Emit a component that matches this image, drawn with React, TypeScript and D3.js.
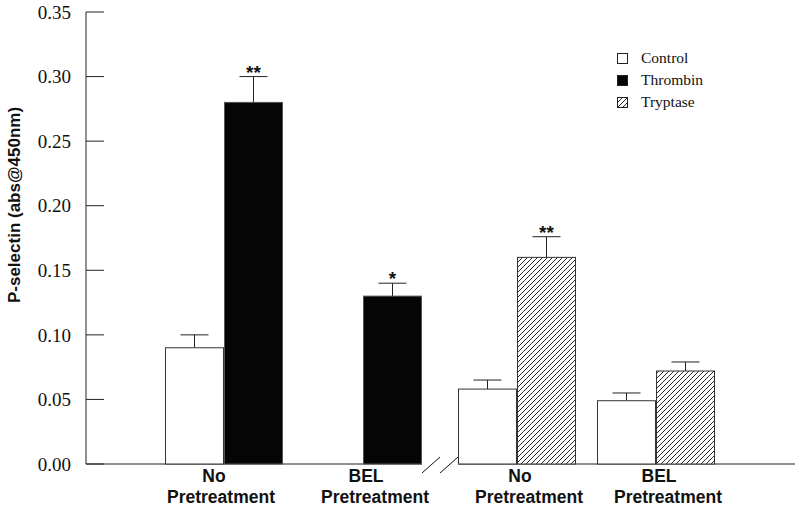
import React, { useEffect, useRef } from 'react';
import * as d3 from 'd3';

// groups along the x axis
const groupTop = ['No', 'BEL', 'No', 'BEL'];
const groupBottom = ['Pretreatment', 'Pretreatment', 'Pretreatment', 'Pretreatment'];
const treatmentKind = ['Thrombin', 'Thrombin', 'Tryptase', 'Tryptase'];

// control bars (null = no bar)
const controlMean: (number | null)[] = [0.09, null, 0.058, 0.049];
const controlErr: (number | null)[] = [0.01, null, 0.007, 0.006];

// treatment bars
const treatMean = [0.28, 0.13, 0.16, 0.072];
const treatErr = [0.02, 0.01, 0.016, 0.007];
const signif = ['**', '*', '**', ''];

const yTicks = [0, 0.05, 0.1, 0.15, 0.2, 0.25, 0.3, 0.35];
const legendItems = ['Control', 'Thrombin', 'Tryptase'];

const App = () => {
  const svgRef = useRef<SVGSVGElement | null>(null);

  useEffect(() => {
    if (!svgRef.current) return;
    const svg = d3.select(svgRef.current);
    svg.selectAll('*').remove();

    const serif = '"Liberation Serif", "Times New Roman", serif';
    const sans = '"Liberation Sans", Arial, sans-serif';

    const axisX = 86;
    const axisRight = 795;
    const y = d3.scaleLinear().domain([0, 0.35]).range([464, 12]);

    // group centres, with a gap for the axis break after the second group
    const breakGap = 15;
    const xGroup = d3.scaleLinear().domain([0, 3]).range([224, 656 - breakGap]);
    const cx = (i: number) => xGroup(i) + (i >= 2 ? breakGap : 0);
    const inner = d3.scaleBand().domain(['control', 'treat']).range([-59, 59]);
    const bw = inner.bandwidth();

    // hatch pattern
    const defs = svg.append('defs');
    const pat = defs.append('pattern')
      .attr('id', 'hatch')
      .attr('patternUnits', 'userSpaceOnUse')
      .attr('width', 5)
      .attr('height', 5);
    pat.append('rect').attr('width', 5).attr('height', 5).attr('fill', '#fff');
    pat.append('path')
      .attr('d', 'M-1,1 l2,-2 M0,5 l5,-5 M4,6 l2,-2')
      .attr('stroke', '#111')
      .attr('stroke-width', 0.9);

    const fillFor = (kind: string) =>
      kind === 'Control' ? '#fff' : kind === 'Thrombin' ? '#050505' : 'url(#hatch)';

    // y axis
    svg.append('line')
      .attr('x1', axisX).attr('x2', axisX)
      .attr('y1', y(0.35)).attr('y2', y(0))
      .attr('stroke', '#222');
    svg.selectAll('.ytick')
      .data(yTicks)
      .enter()
      .append('line')
      .attr('x1', axisX).attr('x2', axisX + 18)
      .attr('y1', d => y(d)).attr('y2', d => y(d))
      .attr('stroke', '#222');
    svg.selectAll('.ylab')
      .data(yTicks)
      .enter()
      .append('text')
      .attr('x', 71)
      .attr('y', d => y(d))
      .attr('dy', '0.35em')
      .attr('text-anchor', 'end')
      .attr('font-family', serif)
      .attr('font-size', 19)
      .attr('fill', '#111')
      .text(d => d3.format('.2f')(d));

    svg.append('text')
      .attr('transform', `translate(20, ${(y(0) + y(0.35)) / 2 - 33}) rotate(-90)`)
      .attr('text-anchor', 'middle')
      .attr('font-family', sans)
      .attr('font-weight', 'bold')
      .attr('font-size', 17)
      .attr('fill', '#111')
      .text('P-selectin (abs@450nm)');

    // x axis, broken between groups 2 and 3
    const breakL = cx(1) + inner('treat')! + bw;
    const breakR = cx(2) + inner('control')!;
    svg.append('line')
      .attr('x1', axisX).attr('x2', breakL)
      .attr('y1', y(0)).attr('y2', y(0))
      .attr('stroke', '#222');
    svg.append('line')
      .attr('x1', breakR).attr('x2', axisRight)
      .attr('y1', y(0)).attr('y2', y(0))
      .attr('stroke', '#222');
    const mid = (breakL + breakR) / 2;
    [[breakL, mid], [mid, breakR]].forEach(([a, b]) => {
      svg.append('line')
        .attr('x1', a).attr('y1', y(0) + 9)
        .attr('x2', b).attr('y2', y(0) - 7)
        .attr('stroke', '#111');
    });

    // bars
    const bars: { i: number; key: string; kind: string; v: number; e: number; star: string }[] = [];
    groupTop.forEach((_, i) => {
      if (controlMean[i] != null) {
        bars.push({ i, key: 'control', kind: 'Control', v: controlMean[i] as number, e: controlErr[i] as number, star: '' });
      }
      bars.push({ i, key: 'treat', kind: treatmentKind[i], v: treatMean[i], e: treatErr[i], star: signif[i] });
    });

    const g = svg.append('g');
    bars.forEach(b => {
      const x0 = cx(b.i) + inner(b.key)!;
      const xm = x0 + bw / 2;
      // error bar
      g.append('line')
        .attr('x1', xm).attr('x2', xm)
        .attr('y1', y(b.v)).attr('y2', y(b.v + b.e))
        .attr('stroke', '#222');
      g.append('line')
        .attr('x1', xm - 14).attr('x2', xm + 14)
        .attr('y1', y(b.v + b.e)).attr('y2', y(b.v + b.e))
        .attr('stroke', '#222');
      g.append('rect')
        .attr('x', x0 + 0.5)
        .attr('y', y(b.v))
        .attr('width', bw - 1)
        .attr('height', y(0) - y(b.v))
        .attr('fill', fillFor(b.kind))
        .attr('stroke', b.kind === 'Thrombin' ? '#555' : '#333')
        .attr('stroke-width', 1);
      if (b.star) {
        g.append('text')
          .attr('x', xm)
          .attr('y', y(b.v + b.e) + 2)
          .attr('text-anchor', 'middle')
          .attr('font-family', sans)
          .attr('font-weight', 'bold')
          .attr('font-size', 19)
          .attr('fill', '#111')
          .text(b.star);
      }
    });

    // group labels
    groupTop.forEach((t, i) => {
      svg.append('text')
        .attr('x', cx(i) + (i === 0 ? -10 : 3))
        .attr('y', 482)
        .attr('text-anchor', 'middle')
        .attr('font-family', sans)
        .attr('font-weight', 'bold')
        .attr('font-size', 17.5)
        .attr('fill', '#111')
        .text(t);
      svg.append('text')
        .attr('x', cx(i) + (i === 0 ? -3 : 12))
        .attr('y', 503)
        .attr('text-anchor', 'middle')
        .attr('font-family', sans)
        .attr('font-weight', 'bold')
        .attr('font-size', 17.5)
        .attr('fill', '#111')
        .text(groupBottom[i]);
    });

    // legend
    const legend = svg.append('g').attr('transform', 'translate(617, 53)');
    legendItems.forEach((name, k) => {
      legend.append('rect')
        .attr('x', 0.5).attr('y', k * 22 + 0.5)
        .attr('width', 10).attr('height', 10)
        .attr('fill', fillFor(name))
        .attr('stroke', '#222');
      legend.append('text')
        .attr('x', 24)
        .attr('y', k * 22 + 5)
        .attr('dy', '0.35em')
        .attr('font-family', serif)
        .attr('font-size', 15.5)
        .attr('fill', '#111')
        .text(name);
    });
  }, []);

  return (
    <svg
      ref={svgRef}
      width={800}
      height={512}
      style={{ position: 'absolute', left: 0, top: 0, background: '#fff' }}
    />
  );
};

export default App;
